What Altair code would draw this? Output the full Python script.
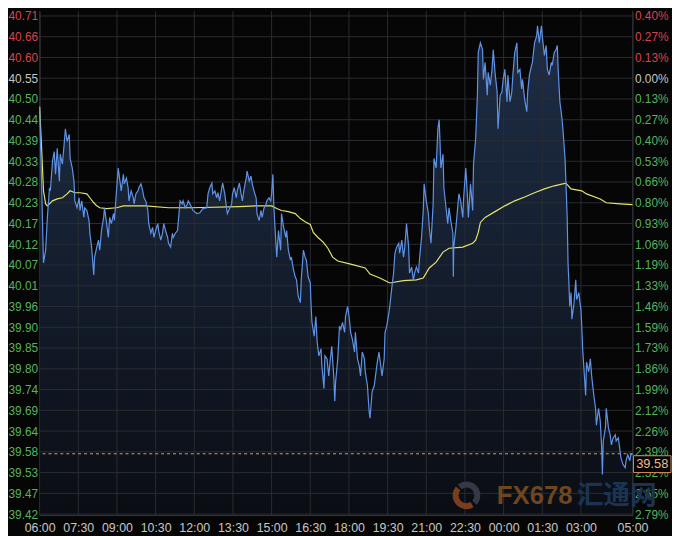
import altair as alt
import pandas as pd

# ---------------- axis labels ----------------
TIME_TICKS = [0, 90, 180, 270, 360, 450, 540, 630, 720, 810, 900, 990, 1080, 1170, 1260, 1380]
TIME_LABELS = ["06:00", "07:30", "09:00", "10:30", "12:00", "13:30", "15:00", "16:30",
               "18:00", "19:30", "21:00", "22:30", "00:00", "01:30", "03:00", "05:00"]

PRICE_LABELS = ["40.71", "40.66", "40.60", "40.55", "40.50", "40.44", "40.39", "40.33", "40.28",
                "40.23", "40.17", "40.12", "40.07", "40.01", "39.96", "39.90", "39.85", "39.80",
                "39.74", "39.69", "39.64", "39.58", "39.53", "39.47", "39.42"]
PCT_LABELS = ["0.40%", "0.27%", "0.13%", "0.00%", "0.13%", "0.27%", "0.40%", "0.53%", "0.66%",
              "0.80%", "0.93%", "1.06%", "1.19%", "1.33%", "1.46%", "1.59%", "1.73%", "1.86%",
              "1.99%", "2.12%", "2.26%", "2.39%", "2.52%", "2.65%", "2.79%"]
PREV_CLOSE = 40.55
TICK_STEP = 0.05383
LAST_PRICE = 39.576
Y_DOMAIN = [39.417, 40.724]
WATERMARK = ["FX678", "汇通网"]

# ---------------- price series (minutes after 06:00, price) ----------------
PRICE_T = [
    0, 2, 5, 9, 14, 18, 23, 25, 30, 34,
    37, 41, 46, 48, 53, 57, 60, 64, 69, 71,
    76, 80, 82, 87, 92, 94, 98, 103, 105, 110,
    115, 117, 121, 126, 128, 133, 137, 140, 144, 149,
    151, 156, 160, 163, 167, 172, 174, 179, 183, 186,
    190, 195, 197, 202, 206, 208, 213, 218, 220, 224,
    229, 231, 236, 240, 243, 247, 252, 254, 259, 263,
    266, 270, 275, 277, 282, 286, 289, 293, 298, 300,
    305, 309, 311, 316, 321, 323, 327, 332, 334, 339,
    344, 346, 350, 357, 366, 373, 380, 389, 392, 396,
    401, 403, 408, 412, 415, 419, 424, 426, 431, 435,
    437, 442, 447, 449, 453, 458, 460, 465, 469, 472,
    476, 481, 483, 488, 492, 495, 499, 504, 506, 511,
    515, 518, 522, 527, 529, 534, 538, 540, 543, 545,
    547, 550, 552, 556, 561, 563, 568, 573, 575, 579,
    584, 586, 591, 595, 598, 602, 607, 609, 614, 618,
    621, 625, 630, 632, 634, 639, 643, 646, 650, 655,
    657, 662, 664, 669, 673, 676, 680, 685, 687, 689,
    694, 698, 701, 705, 710, 712, 717, 721, 724, 728,
    733, 735, 740, 744, 747, 751, 756, 758, 763, 767,
    769, 774, 779, 781, 786, 790, 792, 797, 802, 804,
    808, 813, 815, 820, 824, 827, 831, 836, 838, 843,
    847, 850, 854, 859, 861, 866, 870, 873, 877, 882,
    884, 889, 893, 895, 900, 905, 907, 911, 916, 918,
    923, 927, 930, 932, 934, 939, 941, 946, 950, 953,
    957, 962, 963, 964, 969, 973, 976, 980, 985, 987,
    992, 996, 998, 1003, 1008, 1010, 1015, 1019, 1021, 1026,
    1031, 1033, 1037, 1042, 1044, 1049, 1053, 1056, 1060, 1065,
    1067, 1072, 1076, 1079, 1083, 1088, 1090, 1095, 1099, 1102,
    1106, 1111, 1113, 1118, 1122, 1124, 1129, 1134, 1136, 1140,
    1145, 1147, 1152, 1157, 1159, 1163, 1168, 1170, 1175, 1179,
    1182, 1186, 1191, 1193, 1198, 1202, 1205, 1207, 1211, 1216,
    1218, 1223, 1225, 1228, 1230, 1232, 1234, 1237, 1239, 1244,
    1248, 1250, 1255, 1260, 1262, 1264, 1269, 1271, 1273, 1278,
    1282, 1285, 1289, 1294, 1296, 1301, 1305, 1308, 1310, 1312,
    1317, 1319, 1324, 1328, 1331, 1335, 1340, 1342, 1347, 1351,
    1353, 1358, 1363, 1365, 1369, 1374, 1376, 1380,
]
PRICE_V = [
    40.476, 40.386, 40.258, 40.071, 40.104, 40.189, 40.266, 40.258, 40.335, 40.360,
    40.301, 40.368, 40.283, 40.353, 40.327, 40.378, 40.419, 40.386, 40.404, 40.342,
    40.317, 40.283, 40.232, 40.214, 40.240, 40.207, 40.232, 40.189, 40.214, 40.207,
    40.181, 40.148, 40.112, 40.040, 40.086, 40.112, 40.130, 40.104, 40.155, 40.189,
    40.214, 40.173, 40.137, 40.189, 40.173, 40.199, 40.181, 40.258, 40.317, 40.291,
    40.258, 40.301, 40.276, 40.291, 40.266, 40.232, 40.258, 40.240, 40.224, 40.250,
    40.258, 40.266, 40.276, 40.258, 40.240, 40.232, 40.207, 40.173, 40.148, 40.163,
    40.137, 40.155, 40.173, 40.155, 40.130, 40.148, 40.173, 40.155, 40.137, 40.122,
    40.112, 40.148, 40.137, 40.148, 40.155, 40.181, 40.232, 40.224, 40.232, 40.214,
    40.224, 40.232, 40.224, 40.207, 40.199, 40.201, 40.212, 40.214, 40.250, 40.266,
    40.278, 40.250, 40.258, 40.240, 40.253, 40.232, 40.266, 40.278, 40.250, 40.214,
    40.199, 40.212, 40.224, 40.250, 40.266, 40.240, 40.258, 40.278, 40.250, 40.232,
    40.263, 40.291, 40.309, 40.283, 40.296, 40.276, 40.258, 40.240, 40.199, 40.181,
    40.207, 40.189, 40.212, 40.224, 40.232, 40.240, 40.232, 40.250, 40.301, 40.224,
    40.181, 40.122, 40.086, 40.155, 40.104, 40.199, 40.163, 40.137, 40.155, 40.104,
    40.078, 40.086, 40.053, 40.035, 40.027, 39.984, 39.968, 40.027, 40.104, 40.086,
    40.078, 40.035, 40.019, 39.958, 39.917, 39.881, 39.932, 39.866, 39.830, 39.848,
    39.804, 39.745, 39.830, 39.822, 39.778, 39.814, 39.855, 39.771, 39.712, 39.763,
    39.822, 39.907, 39.899, 39.917, 39.891, 39.932, 39.958, 39.925, 39.891, 39.873,
    39.840, 39.891, 39.822, 39.804, 39.778, 39.840, 39.822, 39.789, 39.753, 39.686,
    39.668, 39.737, 39.753, 39.771, 39.814, 39.840, 39.822, 39.778, 39.822, 39.891,
    39.907, 39.942, 39.958, 40.009, 40.045, 40.096, 40.112, 40.122, 40.096, 40.130,
    40.086, 40.112, 40.173, 40.112, 40.045, 40.060, 40.027, 40.045, 40.060, 40.045,
    40.078, 40.137, 40.207, 40.276, 40.232, 40.199, 40.163, 40.122, 40.224, 40.342,
    40.317, 40.419, 40.442, 40.386, 40.317, 40.353, 40.266, 40.214, 40.173, 40.214,
    40.181, 40.148, 40.035, 40.112, 40.163, 40.214, 40.250, 40.232, 40.189, 40.240,
    40.317, 40.240, 40.189, 40.276, 40.207, 40.327, 40.394, 40.506, 40.617, 40.642,
    40.624, 40.547, 40.591, 40.506, 40.565, 40.532, 40.573, 40.624, 40.565, 40.514,
    40.419, 40.506, 40.514, 40.547, 40.573, 40.489, 40.558, 40.489, 40.514, 40.565,
    40.617, 40.642, 40.565, 40.573, 40.522, 40.547, 40.496, 40.463, 40.514, 40.558,
    40.583, 40.591, 40.642, 40.660, 40.686, 40.642, 40.686, 40.660, 40.609, 40.635,
    40.573, 40.558, 40.591, 40.583, 40.617, 40.624, 40.635, 40.573, 40.489, 40.445,
    40.419, 40.342, 40.283, 40.189, 40.071, 40.019, 39.958, 39.994, 39.925, 39.968,
    40.027, 39.976, 39.994, 39.950, 39.907, 39.848, 39.763, 39.727, 39.814, 39.789,
    39.822, 39.778, 39.737, 39.694, 39.650, 39.694, 39.661, 39.599, 39.522, 39.609,
    39.643, 39.694, 39.643, 39.625, 39.599, 39.617, 39.625, 39.609, 39.617, 39.584,
    39.566, 39.548, 39.540, 39.558, 39.573, 39.558, 39.573, 39.576,
]

# ---------------- average price series ----------------
AVG_T = [0, 5, 9, 14, 18, 30, 41, 53, 64, 71,
         82, 94, 110, 117, 126, 133, 140, 156, 179, 195,
         247, 300, 355, 465, 504, 540, 552, 563, 579, 595,
         607, 618, 630, 637, 648, 660, 671, 682, 694, 724,
         758, 769, 792, 815, 847, 877, 893, 907, 923, 939,
         953, 985, 1008, 1015, 1021, 1026, 1037, 1060, 1083, 1106,
         1129, 1152, 1175, 1198, 1225, 1237, 1262, 1273, 1305, 1319,
         1351, 1380]
AVG_V = [40.476, 40.360, 40.258, 40.224, 40.219, 40.232, 40.237, 40.240, 40.250, 40.258,
         40.253, 40.253, 40.250, 40.240, 40.227, 40.219, 40.214, 40.212, 40.214, 40.219,
         40.219, 40.214, 40.214, 40.217, 40.219, 40.219, 40.212, 40.207, 40.204, 40.199,
         40.186, 40.178, 40.171, 40.150, 40.137, 40.125, 40.109, 40.086, 40.076, 40.068,
         40.058, 40.042, 40.032, 40.019, 40.025, 40.027, 40.032, 40.058, 40.073, 40.099,
         40.109, 40.112, 40.122, 40.130, 40.150, 40.176, 40.189, 40.204, 40.219, 40.232,
         40.242, 40.253, 40.263, 40.271, 40.278, 40.263, 40.258, 40.250, 40.237, 40.227,
         40.224, 40.222]

# ---------------- derived tables ----------------
Y_TICKS = [PREV_CLOSE + (3 - i) * TICK_STEP for i in range(len(PRICE_LABELS))]
df_price = pd.DataFrame({"t": PRICE_T, "p": PRICE_V})
df_avg = pd.DataFrame({"t": AVG_T, "p": AVG_V})
df_ygrid = pd.DataFrame({"p": Y_TICKS})
df_xgrid = pd.DataFrame({"t": TIME_TICKS})
df_last = pd.DataFrame({"p": [LAST_PRICE], "lbl": [f"{LAST_PRICE:.2f}"]})

UP, FLAT, DOWN = "#d9434d", "#c4c4c4", "#55b35f"
FONT = "Liberation Sans"
GRID = "#2a2d32"
AXIS_LINE = "#3a3a3a"

xscale = alt.Scale(domain=[0, 1380], nice=False, zero=False)
yscale = alt.Scale(domain=Y_DOMAIN, nice=False, zero=False)

label_color = {
    "condition": [
        {"test": f"datum.value > {PREV_CLOSE + TICK_STEP / 2}", "value": UP},
        {"test": f"datum.value > {PREV_CLOSE - TICK_STEP / 2}", "value": FLAT},
    ],
    "value": DOWN,
}
top = Y_TICKS[0]
left_expr = f"{PRICE_LABELS}[round(({top} - datum.value) / {TICK_STEP})]"
right_expr = f"{PCT_LABELS}[round(({top} - datum.value) / {TICK_STEP})]"
x_expr = f"{TIME_LABELS}[indexof({TIME_TICKS}, datum.value)]"

x_axis = alt.Axis(values=TIME_TICKS, labelExpr=x_expr, grid=False, ticks=False,
                  domain=True, domainColor=AXIS_LINE, labelColor="#c6c6c6",
                  labelFont=FONT, labelFontSize=12.5, labelPadding=7, title=None,
                  labelOverlap=False, labelFlush=False, labelBound=False)
left_axis = alt.Axis(values=Y_TICKS, labelExpr=left_expr, grid=False, ticks=False,
                     domain=True, domainColor=AXIS_LINE, labelColor=label_color,
                     labelFont=FONT, labelFontSize=12, labelPadding=2, title=None,
                     labelOverlap=False, labelFlush=False, labelBound=False)
right_axis = alt.Axis(values=Y_TICKS, labelExpr=right_expr, grid=False, ticks=False,
                      orient="right", labelAlign="left",
                      domain=True, domainColor=AXIS_LINE, labelColor=label_color,
                      labelFont=FONT, labelFontSize=12, labelPadding=2, title=None,
                      labelOverlap=False, labelFlush=False, labelBound=False)

X = alt.X("t:Q", scale=xscale, axis=x_axis)

area_fill = alt.Gradient(
    gradient="linear",
    stops=[alt.GradientStop(color="#1e2e48", offset=0),
           alt.GradientStop(color="#131c2b", offset=0.55),
           alt.GradientStop(color="#0a0d13", offset=1)],
    x1=1, x2=1, y1=0, y2=1,
)

area = alt.Chart(df_price).mark_area(color=area_fill).encode(
    x=X, y=alt.Y("p:Q", scale=yscale, axis=left_axis), y2=alt.datum(Y_DOMAIN[0]))

ygrid = alt.Chart(df_ygrid).mark_rule(color=GRID, strokeWidth=1).encode(
    y=alt.Y("p:Q", scale=yscale, axis=None))
xgrid = alt.Chart(df_xgrid).mark_rule(color=GRID, strokeWidth=1).encode(x=X)

df_wm1 = pd.DataFrame({"s": [WATERMARK[0]]})
df_wm2 = pd.DataFrame({"s": [WATERMARK[1]]})
wm1 = alt.Chart(df_wm1).mark_text(font=FONT, fontSize=26, fontWeight="bold",
                                  color="#6e4620", align="center", baseline="middle").encode(
    text="s:N", x=alt.value(501), y=alt.value(491))
wm2 = alt.Chart(df_wm2).mark_text(font="Noto Sans CJK SC", fontSize=27, fontWeight="bold",
                                  color="#1b3454", align="center", baseline="middle").encode(
    text="s:N", x=alt.value(584), y=alt.value(491))
logo1 = alt.Chart(df_wm1).mark_arc(innerRadius=8, outerRadius=14, theta=2.6, theta2=5.4,
                                   color="#7a3e1e").encode(x=alt.value(432), y=alt.value(490))
logo2 = alt.Chart(df_wm1).mark_arc(innerRadius=8, outerRadius=14, theta=5.6, theta2=8.6,
                                   color="#343945").encode(x=alt.value(432), y=alt.value(490))

last_rule = alt.Chart(df_last).mark_rule(color="#d9a05a", strokeDash=[3, 3], strokeWidth=1).encode(
    y=alt.Y("p:Q", scale=yscale, axis=right_axis))

avg_line = alt.Chart(df_avg).mark_line(color="#e4e46a", strokeWidth=1.2).encode(
    x=X, y=alt.Y("p:Q", scale=yscale, axis=None))
price_line = alt.Chart(df_price).mark_line(color="#5f93e6", strokeWidth=1.2).encode(
    x=X, y=alt.Y("p:Q", scale=yscale, axis=None))

box = alt.Chart(df_last).mark_rect(fill="#050505", stroke="#d7895a", strokeWidth=1,
                                   yOffset=2, y2Offset=19).encode(
    x=alt.value(601), x2=alt.value(639),
    y=alt.Y("p:Q", scale=yscale, axis=None), y2="p:Q")
box_text = alt.Chart(df_last).mark_text(font=FONT, fontSize=13, color="#f3b98f",
                                        align="center", baseline="middle", yOffset=10.5).encode(
    x=alt.value(620), y=alt.Y("p:Q", scale=yscale, axis=None), text="lbl:N")

chart = alt.layer(
    area, ygrid, xgrid, logo1, logo2, wm1, wm2, last_rule, avg_line, price_line, box, box_text
).resolve_axis(y="independent").properties(
    width=600, height=510,
    autosize=alt.AutoSizeParams(type="none"),
    padding={"left": 32, "top": 0, "right": 40, "bottom": 18},
    background="#060606",
).configure_view(strokeWidth=0)

chart.save("out.html", embed_options={"renderer": "svg", "actions": False})
